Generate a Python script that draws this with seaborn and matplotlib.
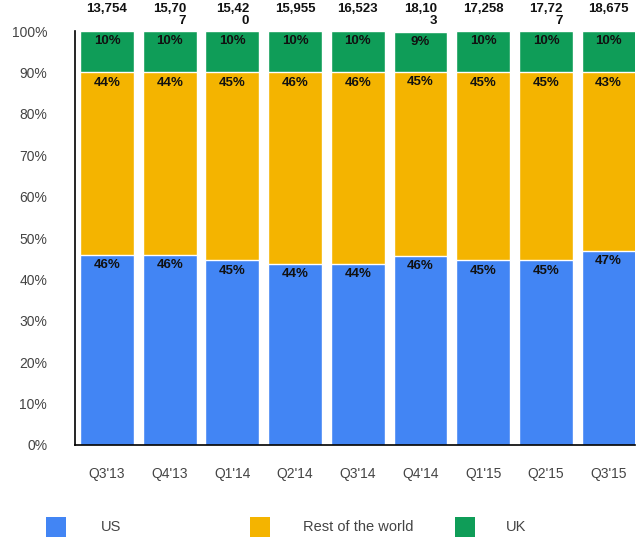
import numpy as np
import pandas as pd
import matplotlib
matplotlib.use("Agg")
import matplotlib.pyplot as plt
from matplotlib.patches import Rectangle
import seaborn as sns

quarters = ["Q3'13", "Q4'13", "Q1'14", "Q2'14", "Q3'14", "Q4'14", "Q1'15", "Q2'15", "Q3'15"]
us = [45.9, 45.9, 44.6, 43.8, 43.8, 45.6, 44.6, 44.6, 46.9]
rest = [44.1, 44.1, 45.4, 46.2, 46.2, 44.6, 45.4, 45.4, 43.1]
uk = [10.0, 10.0, 10.0, 10.0, 10.0, 9.49, 10.0, 10.0, 10.0]
totals = ["13,754", "15,70\n7", "15,42\n0", "15,955", "16,523", "18,10\n3", "17,258", "17,72\n7", "18,675"]

blue, yellow, green = "#4285F4", "#F4B400", "#0F9D58"

df = pd.DataFrame({"quarter": quarters, "US": us, "Rest": rest, "UK": uk})
df["us_top"] = df["US"]
df["rest_top"] = df["US"] + df["Rest"]
df["uk_top"] = df["US"] + df["Rest"] + df["UK"]

sns.set_style("white")
plt.rcParams["font.family"] = ["Liberation Sans", "DejaVu Sans"]

fig = plt.figure(figsize=(6.4, 5.42), dpi=100)
ax = fig.add_axes([75 / 640, 1 - 445 / 542, 560 / 640, 414 / 542])

# stacked bars: draw cumulative heights back to front
sns.barplot(data=df, x="quarter", y="uk_top", color=green, width=0.86, saturation=1, ax=ax)
sns.barplot(data=df, x="quarter", y="rest_top", color=yellow, width=0.86, saturation=1, ax=ax)
sns.barplot(data=df, x="quarter", y="us_top", color=blue, width=0.86, saturation=1, ax=ax)

for i in range(len(quarters)):
    segs = [(df["us_top"][i], us[i]), (df["rest_top"][i], rest[i]), (df["uk_top"][i], uk[i])]
    for top, val in segs:
        ax.annotate(f"{val:.0f}%", (i, top), xytext=(0, -3), textcoords="offset points",
                    ha="center", va="top", fontsize=9.5, fontweight="bold", color="#111111")
    ax.annotate(totals[i], (i, 100), xytext=(0, 20), textcoords="offset points",
                ha="center", va="top", fontsize=9.5, fontweight="bold", color="#111111",
                multialignment="right", linespacing=0.95, annotation_clip=False)

ax.set_ylim(0, 100)
ax.set_xlim(-0.51, 8.42)
ax.set_yticks(np.arange(0, 101, 10))
ax.set_yticklabels([f"{v}%" for v in range(0, 101, 10)])
ax.set_xlabel("")
ax.set_ylabel("")
for s in ["top", "right"]:
    ax.spines[s].set_visible(False)
for s in ["left", "bottom"]:
    ax.spines[s].set_color("black")
    ax.spines[s].set_linewidth(1.2)
ax.tick_params(axis="y", length=7, pad=13, labelsize=10, labelcolor="#444444", color="#444444")
ax.tick_params(axis="x", length=6.5, pad=9, labelsize=10, labelcolor="#444444", color="#444444")

# legend drawn along the bottom
legend_items = [("US", blue, 46, 101), ("Rest of the world", yellow, 250, 303), ("UK", green, 455, 506)]
for name, col, px, tx in legend_items:
    fig.patches.append(Rectangle((px / 640, 1 - 537 / 542), 20 / 640, 20 / 542,
                                 transform=fig.transFigure, facecolor=col, edgecolor="none"))
    fig.text(tx / 640, 1 - 527 / 542, name, ha="left", va="center", fontsize=10.5, color="#444444")

fig.savefig("out.png", dpi=100)
